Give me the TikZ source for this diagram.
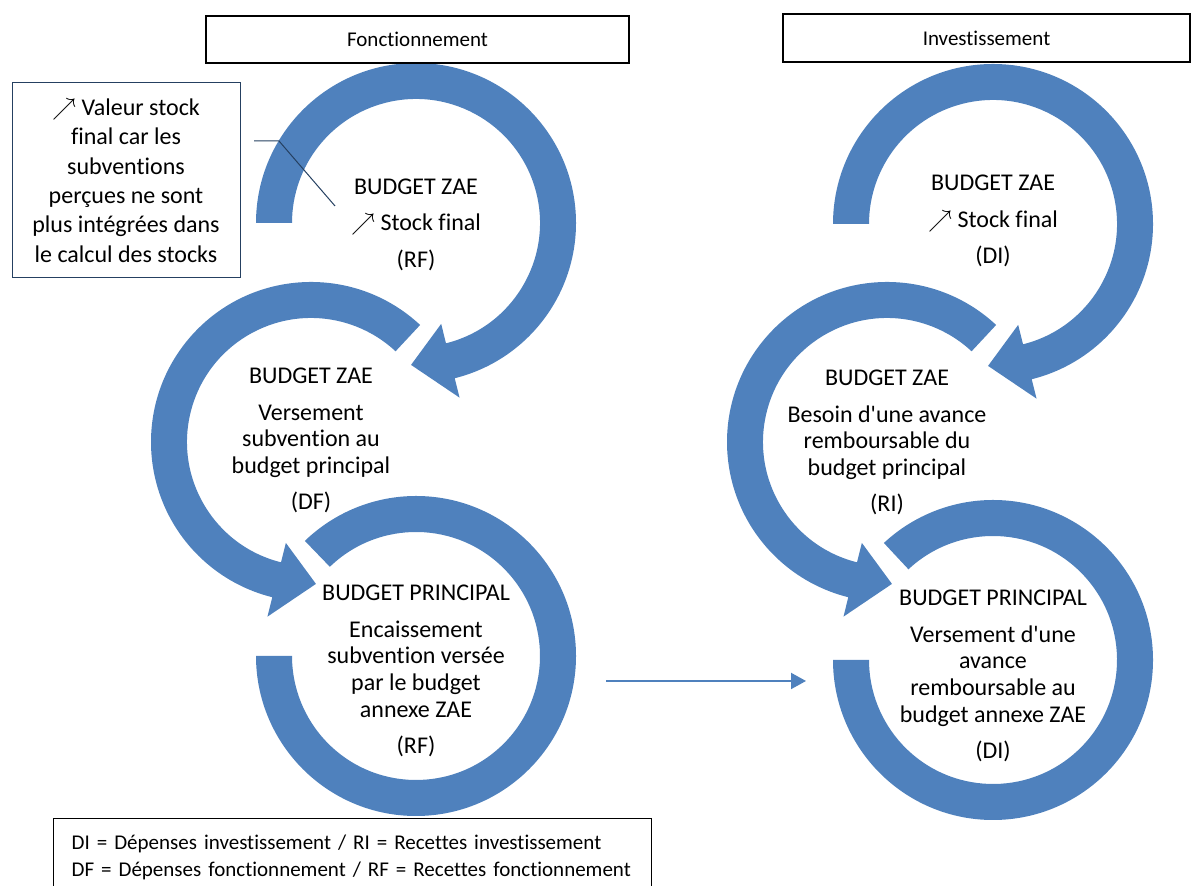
\documentclass[tikz,border=0pt]{standalone}
\usepackage{fontspec}
\setmainfont{Carlito}[Ligatures={CommonOff,TeXOff}]
\usetikzlibrary{arrows.meta}

\definecolor{ringblue}{RGB}{79,129,189}
\definecolor{notenavy}{RGB}{37,64,97}

\newcommand{\hausse}{$\nearrow$}
\newcommand{\pgap}{\\[5pt]}
% ring with an arrow head: center, start angle, head base angle, tip angle
\newcommand{\ringarrow}[4]{%
  \fill[ringblue,shift={#1}] (#2:160) arc[start angle=#2,end angle=#3,radius=160]
    -- (#3:180) -- (#4:142) -- (#3:104) -- (#3:124)
    arc[start angle=#3,end angle=#2,radius=124] -- cycle;}
% plain ring: center, start angle, end angle
\newcommand{\ringarc}[3]{%
  \fill[ringblue,shift={#1}] (#2:160) arc[start angle=#2,end angle=#3,radius=160]
    -- (#3:124) arc[start angle=#3,end angle=#2,radius=124] -- cycle;}

\begin{document}
\begin{tikzpicture}[x=0.5pt,y=0.5pt,
  ringtext/.style={align=center,inner sep=0pt,font=\fontsize{12}{13.3}\selectfont},
  titlebox/.style={draw,line width=0.75pt,inner sep=0pt,font=\fontsize{10.5}{12}\selectfont},
  notebox/.style={draw=notenavy,line width=0.5pt,align=center,inner sep=0pt,
    minimum width=114pt,minimum height=97.5pt,font=\fontsize{12}{14.7}\selectfont},
  legendbox/.style={draw,line width=0.6pt,anchor=north west,align=left,inner xsep=9pt,
    text width=281pt,minimum height=38.5pt,font=\fontsize{10.5}{13.5}\selectfont}]
\useasboundingbox (0,0) rectangle (1192,886);

% Fonctionnement
\ringarrow{(416,663)}{180}{-76}{-92}
\ringarrow{(311,444)}{47}{256}{272}
\ringarc{(416,230)}{180}{494}

% Investissement
\ringarrow{(993,662)}{180}{-76}{-92}
\ringarrow{(887,444)}{47}{256}{272}
\ringarc{(993,226)}{180}{493}

\node[titlebox,minimum width=211.5pt,minimum height=23.5pt] (titleF) at (417.5,846.5) {Fonctionnement};
\node[titlebox,minimum width=203.5pt,minimum height=24pt] (titleI) at (986.5,848) {Investissement};

\node[ringtext] (zaeF1) at (416,661.5) {BUDGET ZAE\pgap \hausse\ Stock final\pgap (RF)};
\node[ringtext] (zaeF2) at (311,445.5) {BUDGET ZAE\pgap Versement\\ subvention au\\ budget principal\pgap (DF)};
\node[ringtext] (princF) at (416,215) {BUDGET PRINCIPAL\pgap Encaissement\\ subvention versée\\ par le budget\\ annexe ZAE\pgap (RF)};

\node[ringtext] (zaeI1) at (993,665) {BUDGET ZAE\pgap \hausse\ Stock final\pgap (DI)};
\node[ringtext] (zaeI2) at (887,443.5) {BUDGET ZAE\pgap Besoin d'une avance\\ remboursable du\\ budget principal\pgap (RI)};
\node[ringtext] (princI) at (993,210) {BUDGET PRINCIPAL\pgap Versement d'une\\ avance\\ remboursable au\\ budget annexe ZAE\pgap (DI)};

\node[notebox] (note) at (126,705.5) {\hausse\ Valeur stock\\ final car les\\ subventions\\ perçues ne sont\\ plus intégrées dans\\ le calcul des stocks};
\coordinate (calloutA) at (254,745);
\coordinate (calloutB) at (279,745);
\coordinate (calloutC) at (335,680);
\draw[notenavy,line width=0.5pt] (calloutA) -- (calloutB) -- (calloutC);

\coordinate (linkfrom) at (606,205);
\coordinate (linkto) at (806,205);
\draw[ringblue,line width=1pt,-{Triangle[length=7.5pt,width=8pt]}] (linkfrom) -- (linkto);

\node[legendbox] (legend) at (53,68) {DI = Dépenses investissement / RI = Recettes investissement\\ DF = Dépenses fonctionnement / RF = Recettes fonctionnement};
\end{tikzpicture}
\end{document}
